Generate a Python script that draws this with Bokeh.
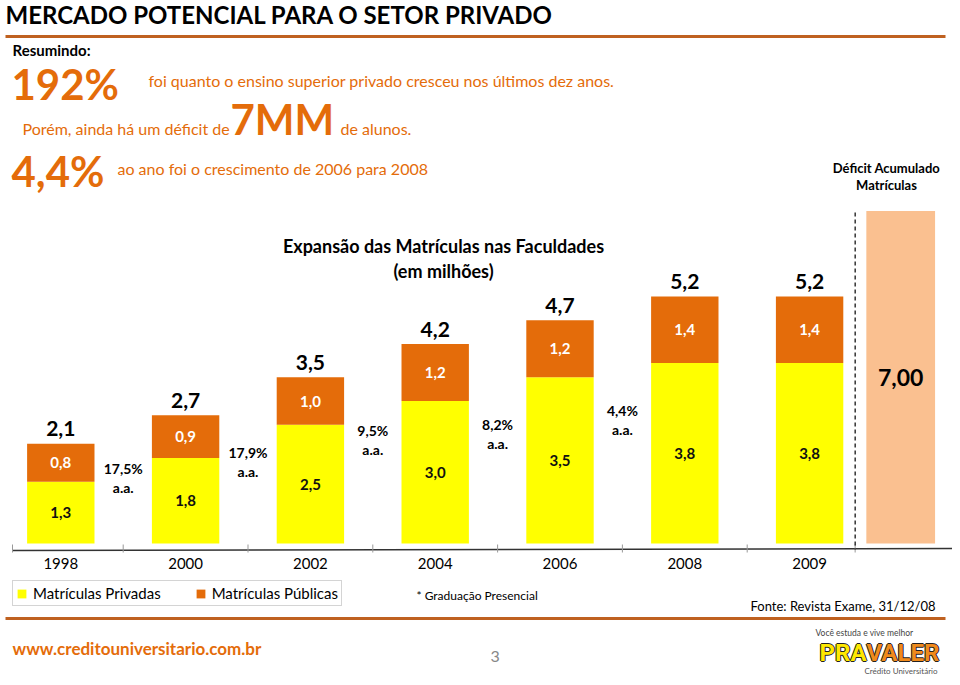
from bokeh.plotting import figure
from bokeh.models import Range1d, Label, Legend, LegendItem, ColumnDataSource
from bokeh.core.properties import value
from bokeh.transform import dodge
from bokeh.embed import file_html
from bokeh.resources import INLINE

# ---------------- data ----------------
years = ["1998", "2000", "2002", "2004", "2006", "2008", "2009"]
privadas = [1.3, 1.8, 2.5, 3.0, 3.5, 3.8, 3.8]
publicas = [0.8, 0.9, 1.0, 1.2, 1.2, 1.4, 1.4]
crescimento = ["17,5%", "17,9%", "9,5%", "8,2%", "4,4%"]
deficit = 7.00

# ---------------- colours / fonts ----------------
YELLOW = "#FFFF00"
ORANGE = "#E46C0A"
LIGHT = "#FAC090"
TXT_OR = "#E46C0A"
LINE_OR = "#BF6120"
FONT = "Lato"

W, H = 952, 677
XS, YS = 124.8, 47.5          # pixels per unit
x_start = -60.3 / XS
y_top = 543 / YS
DEF_SHIFT = -0.27             # deficit bar sits closer to the 2009 bar


def X(px):
    return x_start + px / XS


def Y(py):
    return y_top - py / YS


p = figure(width=W, height=H, output_backend="svg", toolbar_location=None, tools="",
           x_range=Range1d(x_start, x_start + W / XS), y_range=Range1d(y_top - H / YS, y_top),
           x_axis_location=None, y_axis_location=None, min_border=0)
p.grid.visible = False
p.outline_line_color = None
p.background_fill_color = "white"


def txt(s, px, py, size, color="black", bold=False, align="left", font=FONT):
    p.add_layout(Label(x=X(px), y=Y(py), text=s, text_font=font, text_font_size=f"{size}px",
                       text_font_style="bold" if bold else "normal", text_color=color,
                       text_align=align, text_baseline="middle"))


n = len(years)
idx = list(range(n))
totals = [round(a + b, 1) for a, b in zip(privadas, publicas)]
src = ColumnDataSource(dict(
    x=idx, year=years, priv=privadas, pub=publicas, tot=totals,
    priv_mid=[a / 2 for a in privadas],
    pub_mid=[a + b / 2 for a, b in zip(privadas, publicas)],
    priv_lbl=[f"{v:.1f}".replace(".", ",") for v in privadas],
    pub_lbl=[f"{v:.1f}".replace(".", ",") for v in publicas],
    tot_lbl=[f"{v:.1f}".replace(".", ",") for v in totals],
    year_y=[Y(563)] * n,
))
def_src = ColumnDataSource(dict(x=[n], top=[deficit], mid=[deficit / 2],
                                lbl=[f"{deficit:.2f}".replace(".", ",")]))

BW = 0.54
r_priv = p.vbar(x="x", bottom=0, top="priv", width=BW, source=src, fill_color=YELLOW, line_color=None)
r_pub = p.vbar(x="x", bottom="priv", top="tot", width=BW, source=src, fill_color=ORANGE, line_color=None)
p.vbar(x=dodge("x", DEF_SHIFT, range=p.x_range), bottom=0, top="top", width=BW * 1.02, source=def_src,
       fill_color=LIGHT, line_color=None)

# value labels
p.text(x="x", y="priv_mid", text="priv_lbl", source=src, text_font=value(FONT), text_font_size="15px",
       text_font_style="bold", text_color="#111111", text_align="center", text_baseline="middle")
p.text(x="x", y="pub_mid", text="pub_lbl", source=src, text_font=value(FONT), text_font_size="15px",
       text_font_style="bold", text_color="white", text_align="center", text_baseline="middle")
p.text(x="x", y="tot", text="tot_lbl", source=src, text_font=value(FONT), text_font_size="21px",
       text_font_style="bold", text_color="black", text_align="center", text_baseline="middle", y_offset=-15)
p.text(x=dodge("x", DEF_SHIFT, range=p.x_range), y="mid", text="lbl", source=def_src,
       text_font=value(FONT), text_font_size="23px", text_font_style="bold", text_color="black",
       text_align="center", text_baseline="middle")

# growth labels between bars
growth_py = [468, 452, 430, 424, 410]
for i, (g, py) in enumerate(zip(crescimento, growth_py)):
    for line, dy in ((g, 0), ("a.a.", 19)):
        p.add_layout(Label(x=i + 0.5, y=Y(py + dy), text=line, text_font=FONT, text_font_size="14px",
                           text_font_style="bold", text_color="black", text_align="center",
                           text_baseline="middle"))

# year labels and baseline
p.text(x="x", y="year_y", text="year", source=src, text_font=value(FONT), text_font_size="15px",
       text_color="black", text_align="center", text_baseline="middle")
p.segment(x0=[X(12)], y0=[Y(550)], x1=[X(958)], y1=[Y(548)], line_color="#333333", line_width=1.5)
sep = n - 1 + (1 + DEF_SHIFT) / 2
tick_x = [X(12)] + [i + 0.5 for i in range(n - 1)] + [sep, X(957)]
p.segment(x0=tick_x, y0=[Y(552)] * len(tick_x), x1=tick_x, y1=[Y(544)] * len(tick_x),
          line_color="#999999", line_width=1)
p.segment(x0=[sep], y0=[Y(212)], x1=[sep], y1=[Y(549)], line_color="black",
          line_width=1.2, line_dash="4 3")

# header
txt("MERCADO POTENCIAL PARA O SETOR PRIVADO", 5, 14, 24, bold=True)
p.segment(x0=[X(5)], y0=[Y(36)], x1=[X(945)], y1=[Y(36)], line_color=LINE_OR, line_width=3)
txt("Resumindo:", 12, 49, 15, bold=True)
txt("192%", 11, 83, 42, color=TXT_OR, bold=True)
txt("foi quanto o ensino superior privado cresceu nos últimos dez anos.", 148, 80, 16, color=TXT_OR)
txt("Porém, ainda há um déficit de", 22, 128, 16, color=TXT_OR)
txt("7MM", 230, 118, 42, color=TXT_OR, bold=True)
txt("de alunos.", 340, 128, 16, color=TXT_OR)
txt("4,4%", 11, 170, 42, color=TXT_OR, bold=True)
txt("ao ano foi o crescimento de 2006 para 2008", 117, 168, 16, color=TXT_OR)
txt("Déficit Acumulado", 886, 167, 13, bold=True, align="center")
txt("Matrículas", 886, 184, 13, bold=True, align="center")
txt("Expansão das Matrículas nas Faculdades", 443, 245, 18, bold=True, align="center")
txt("(em milhões)", 443, 270, 18, bold=True, align="center")

# legend
legend = Legend(items=[LegendItem(label="Matrículas Privadas", renderers=[r_priv]),
                       LegendItem(label="Matrículas Públicas", renderers=[r_pub])],
                orientation="horizontal", location=(12, H - 606),
                label_text_font=FONT, label_text_font_size="15px", label_text_color="black",
                glyph_width=11, glyph_height=11, label_standoff=6, spacing=34,
                padding=3, margin=0, border_line_color="#AAAAAA", border_line_width=1,
                label_height=14, background_fill_alpha=1)
p.add_layout(legend)

txt("* Graduação Presencial", 416, 595, 12)
txt("Fonte: Revista Exame, 31/12/08", 935, 605, 13, align="right")
p.segment(x0=[X(5)], y0=[Y(618)], x1=[X(945)], y1=[Y(618)], line_color=LINE_OR, line_width=3)

# footer
txt("www.creditouniversitario.com.br", 12, 648, 17, color=TXT_OR, bold=True)
txt("3", 490, 656, 16, color="#888888")
txt("Você estuda e vive melhor", 815, 632, 8.5, color="#444444")
LOGO_FONT = "Roboto"
for dx, dy in ((-1, 0), (1, 0), (0, -1), (0, 1)):
    txt("PRA", 866 + dx, 652 + dy, 24, color="#222222", bold=True, align="right", font=LOGO_FONT)
    txt("VALER", 866 + dx, 652 + dy, 24, color="#222222", bold=True, font=LOGO_FONT)
txt("PRA", 866, 652, 24, color="#FFE800", bold=True, align="right", font=LOGO_FONT)
txt("VALER", 866, 652, 24, color="#F08A1C", bold=True, font=LOGO_FONT)
txt("Crédito Universitário", 937, 670, 8, color="#555555", align="right")

open("out.html", "w").write(file_html(p, INLINE))
